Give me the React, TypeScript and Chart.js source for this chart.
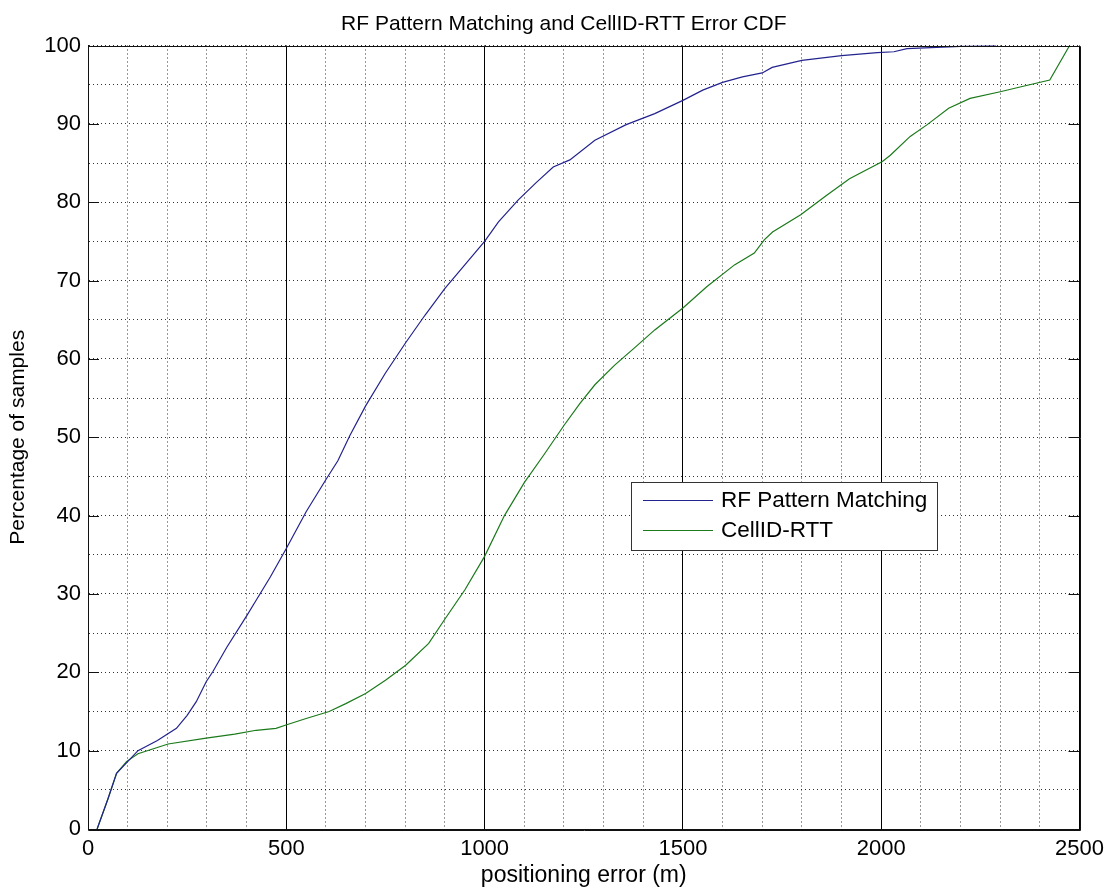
import React, { useEffect, useRef } from "react";
import { Chart, registerables } from "chart.js";

Chart.register(...registerables);

const titleText = "RF Pattern Matching and CellID-RTT Error CDF";
const xTitle = "positioning error (m)";
const yTitle = "Percentage of samples";
const seriesNames = ["RF Pattern Matching", "CellID-RTT"];
const seriesColors = ["#23238f", "#1b7a1b"];

const rfX = [23, 50, 72, 100, 126, 175, 223, 250, 273, 298, 315, 350, 400, 424, 460, 500, 550, 600, 630, 660, 700, 750, 800, 850, 900, 950, 1000, 1035, 1085, 1130, 1173, 1215, 1278, 1357, 1429, 1500, 1550, 1600, 1650, 1700, 1725, 1800, 1900, 1990, 2032, 2065, 2200, 2290];
const rfY = [0, 3.8, 7.1, 8.6, 10.0, 11.3, 12.85, 14.5, 16.25, 18.8, 20.1, 23.2, 27.2, 29.2, 32.2, 35.8, 40.5, 44.6, 47.0, 50.2, 54.0, 58.2, 62.0, 65.6, 69.0, 72.0, 75.0, 77.5, 80.3, 82.5, 84.5, 85.4, 87.9, 89.9, 91.3, 93.0, 94.3, 95.3, 96.0, 96.5, 97.2, 98.1, 98.7, 99.1, 99.2, 99.6, 99.9, 100];

const rttX = [23, 50, 72, 97, 126, 202, 298, 370, 424, 474, 501, 550, 608, 650, 700, 750, 801, 859, 900, 950, 1000, 1050, 1100, 1150, 1200, 1240, 1278, 1328, 1380, 1429, 1500, 1560, 1630, 1680, 1705, 1726, 1797, 1860, 1920, 2003, 2023, 2073, 2116, 2170, 2224, 2300, 2358, 2425, 2475];
const rttY = [0, 3.8, 7.1, 8.6, 9.6, 10.85, 11.6, 12.1, 12.6, 12.85, 13.3, 14.1, 15.0, 16.0, 17.3, 19.0, 20.9, 23.7, 26.8, 30.5, 34.8, 40.0, 44.2, 47.8, 51.5, 54.3, 56.7, 59.2, 61.5, 63.7, 66.5, 69.2, 72.0, 73.5, 75.2, 76.2, 78.4, 80.8, 83.0, 85.2, 86.0, 88.4, 89.9, 92.0, 93.25, 94.1, 94.8, 95.6, 100];

const xMin = 0, xMax = 2500, xMinorStep = 100, xMajorStep = 500;
const yMin = 0, yMax = 100, yMinorStep = 5, yMajorStep = 10;

const FONT = '"Liberation Sans", Arial, sans-serif';

const framePlugin = {
  id: "matlabFrame",
  afterDraw(chart: any) {
    const { ctx, chartArea } = chart;
    const { left, right, top, bottom } = chartArea;
    const ys = chart.scales.y;
    ctx.save();
    ctx.strokeStyle = "#111";
    ctx.lineWidth = 1;
    ctx.setLineDash([]);
    for (let v = yMin; v <= yMax; v += yMajorStep) {
      const py = Math.round(ys.getPixelForValue(v)) + 0.5;
      ctx.beginPath();
      ctx.moveTo(left, py);
      ctx.lineTo(left + 11, py);
      ctx.moveTo(right - 11, py);
      ctx.lineTo(right, py);
      ctx.stroke();
    }
    ctx.strokeStyle = "#111";
    ctx.beginPath();
    ctx.rect(Math.round(left) + 0.5, Math.round(top) + 0.5, Math.round(right - left), Math.round(bottom - top));
    ctx.stroke();

    ctx.fillStyle = "#000";
    ctx.font = `21px ${FONT}`;
    ctx.textAlign = "center";
    ctx.textBaseline = "alphabetic";
    ctx.fillText(titleText, (left + right) / 2 - 20, 29.5);

    const bx = 631, by = 482, bw = 306, bh = 68;
    ctx.fillStyle = "#fff";
    ctx.fillRect(bx, by, bw, bh);
    ctx.strokeStyle = "#333";
    ctx.lineWidth = 1;
    ctx.strokeRect(bx + 0.5, by + 0.5, bw, bh);
    ctx.font = `22.5px ${FONT}`;
    ctx.textAlign = "left";
    ctx.textBaseline = "middle";
    chart.data.datasets.forEach((ds: any, i: number) => {
      const ry = by + 18.5 + i * 30;
      ctx.strokeStyle = ds.borderColor;
      ctx.lineWidth = 1.2;
      ctx.beginPath();
      ctx.moveTo(bx + 12, ry);
      ctx.lineTo(bx + 82, ry);
      ctx.stroke();
      ctx.fillStyle = "#000";
      ctx.fillText(ds.label, bx + 90, ry);
    });
    ctx.restore();
  },
};

export default function App() {
  const ref = useRef<HTMLCanvasElement | null>(null);
  useEffect(() => {
    if (!ref.current) return;
    const chart = new Chart(ref.current, {
      type: "line",
      data: {
        datasets: [
          {
            label: seriesNames[0],
            data: rfX.map((x, i) => ({ x, y: rfY[i] })),
            borderColor: seriesColors[0],
            borderWidth: 1.2,
            pointRadius: 0,
            fill: false,
            tension: 0,
          },
          {
            label: seriesNames[1],
            data: rttX.map((x, i) => ({ x, y: rttY[i] })),
            borderColor: seriesColors[1],
            borderWidth: 1.2,
            pointRadius: 0,
            fill: false,
            tension: 0,
          },
        ],
      },
      options: {
        animation: false,
        responsive: false,
        layout: { padding: { left: 0, right: 28, top: 45.5, bottom: 0 } },
        plugins: {
          legend: { display: false },
          title: { display: false },
          tooltip: { enabled: false },
        },
        scales: {
          x: {
            type: "linear",
            min: xMin,
            max: xMax,
            afterFit: (s: any) => { s.height = 61; },
            ticks: {
              stepSize: xMinorStep,
              autoSkip: false,
              maxRotation: 0,
              padding: 7,
              color: "#000",
              font: { family: FONT, size: 22 },
              callback: (v: any) => (Number(v) % xMajorStep === 0 ? String(v) : ""),
            },
            grid: {
              drawTicks: false,
              color: (c: any) => (c.tick && c.tick.value % xMajorStep === 0 ? "#000" : "rgba(0,0,0,0.8)"),
              lineWidth: 1,
            },
            border: {
              display: true,
              color: "#111",
              dash: (c: any) => (c.tick && c.tick.value % xMajorStep !== 0 ? [1, 3] : []),
            },
            title: {
              display: true,
              text: xTitle,
              color: "#000",
              font: { family: FONT, size: 23 },
              padding: { top: 0, bottom: 1 },
            },
          },
          y: {
            type: "linear",
            min: yMin,
            max: yMax,
            afterFit: (s: any) => { s.width = 88; },
            ticks: {
              stepSize: yMinorStep,
              autoSkip: false,
              padding: 7,
              color: "#000",
              font: { family: FONT, size: 22 },
              callback: (v: any) => (Number(v) % yMajorStep === 0 ? String(v) : ""),
            },
            grid: {
              drawTicks: false,
              color: "rgba(0,0,0,0.8)",
              lineWidth: 1,
            },
            border: {
              display: true,
              color: "#111",
              dash: (c: any) => (c.tick ? [1, 3] : []),
            },
            title: {
              display: true,
              text: yTitle,
              color: "#000",
              font: { family: FONT, size: 21 },
              padding: { top: 6, bottom: 0 },
            },
          },
        },
      },
      plugins: [framePlugin],
    } as any);
    return () => chart.destroy();
  }, []);
  return (
    <div style={{ position: "fixed", left: 0, top: 0, width: 1111, height: 890, background: "#fff" }}>
      <canvas ref={ref} width={1111} height={890} style={{ display: "block" }} />
    </div>
  );
}
